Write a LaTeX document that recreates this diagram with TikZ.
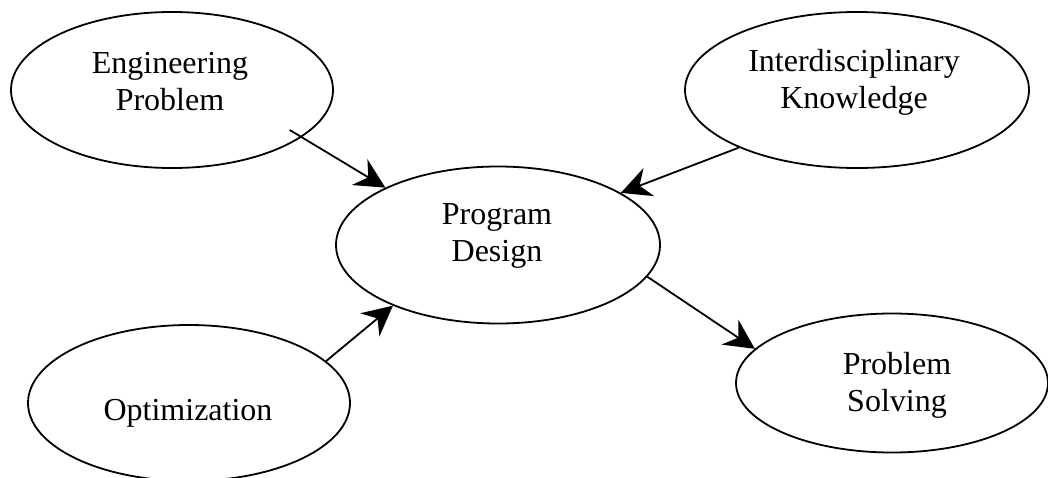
\documentclass[tikz,border=0pt]{standalone}
\usepackage{fontspec}
\setmainfont{Liberation Serif}
\usetikzlibrary{positioning,arrows.meta,shapes.geometric}

\begin{document}
\begin{tikzpicture}[x=0.5pt, y=-0.5pt,
  bub/.style={draw, ellipse, line width=0.9pt, inner sep=0pt},
  txt/.style={align=center, inner sep=0pt, font=\fontsize{16}{18.5}\selectfont},
  arr/.style={-{Stealth[length=15pt, width=15pt, inset=5pt]}, line width=0.9pt},
]
\useasboundingbox (0,0) rectangle (1048,477);

% ====== ellipses ======
\node[bub, minimum width=161pt, minimum height=78pt]   (eng)   at (172,90)  {};
\node[bub, minimum width=172pt, minimum height=78pt]   (intd)  at (857,90)  {};
\node[bub, minimum width=162pt, minimum height=78.5pt] (prog)  at (498,245) {};
\node[bub, minimum width=161pt, minimum height=78pt]   (opt)   at (189,403) {};
\node[bub, minimum width=156pt, minimum height=69.5pt] (solve) at (892,383) {};

% ====== labels ======
\node[txt] (eng-t)   at (170,82)  {Engineering\\Problem};
\node[txt] (intd-t)  at (854,82)  {Interdisciplinary\\Knowledge};
\node[txt] (prog-t)  at (497,236) {Program\\Design};
\node[txt] (opt-t)   at (188,413) {Optimization};
\node[txt] (solve-t) at (897,385) {Problem\\Solving};

% ====== arrows ======
\draw[arr, shorten <=-7pt] (eng.-20) -- (prog.153);
\draw[arr] (intd.-154) -- (prog.23);
\draw[arr] (opt.17) -- (prog.-150);
\draw[arr] (prog.-12) -- (solve.166);

\end{tikzpicture}
\end{document}
